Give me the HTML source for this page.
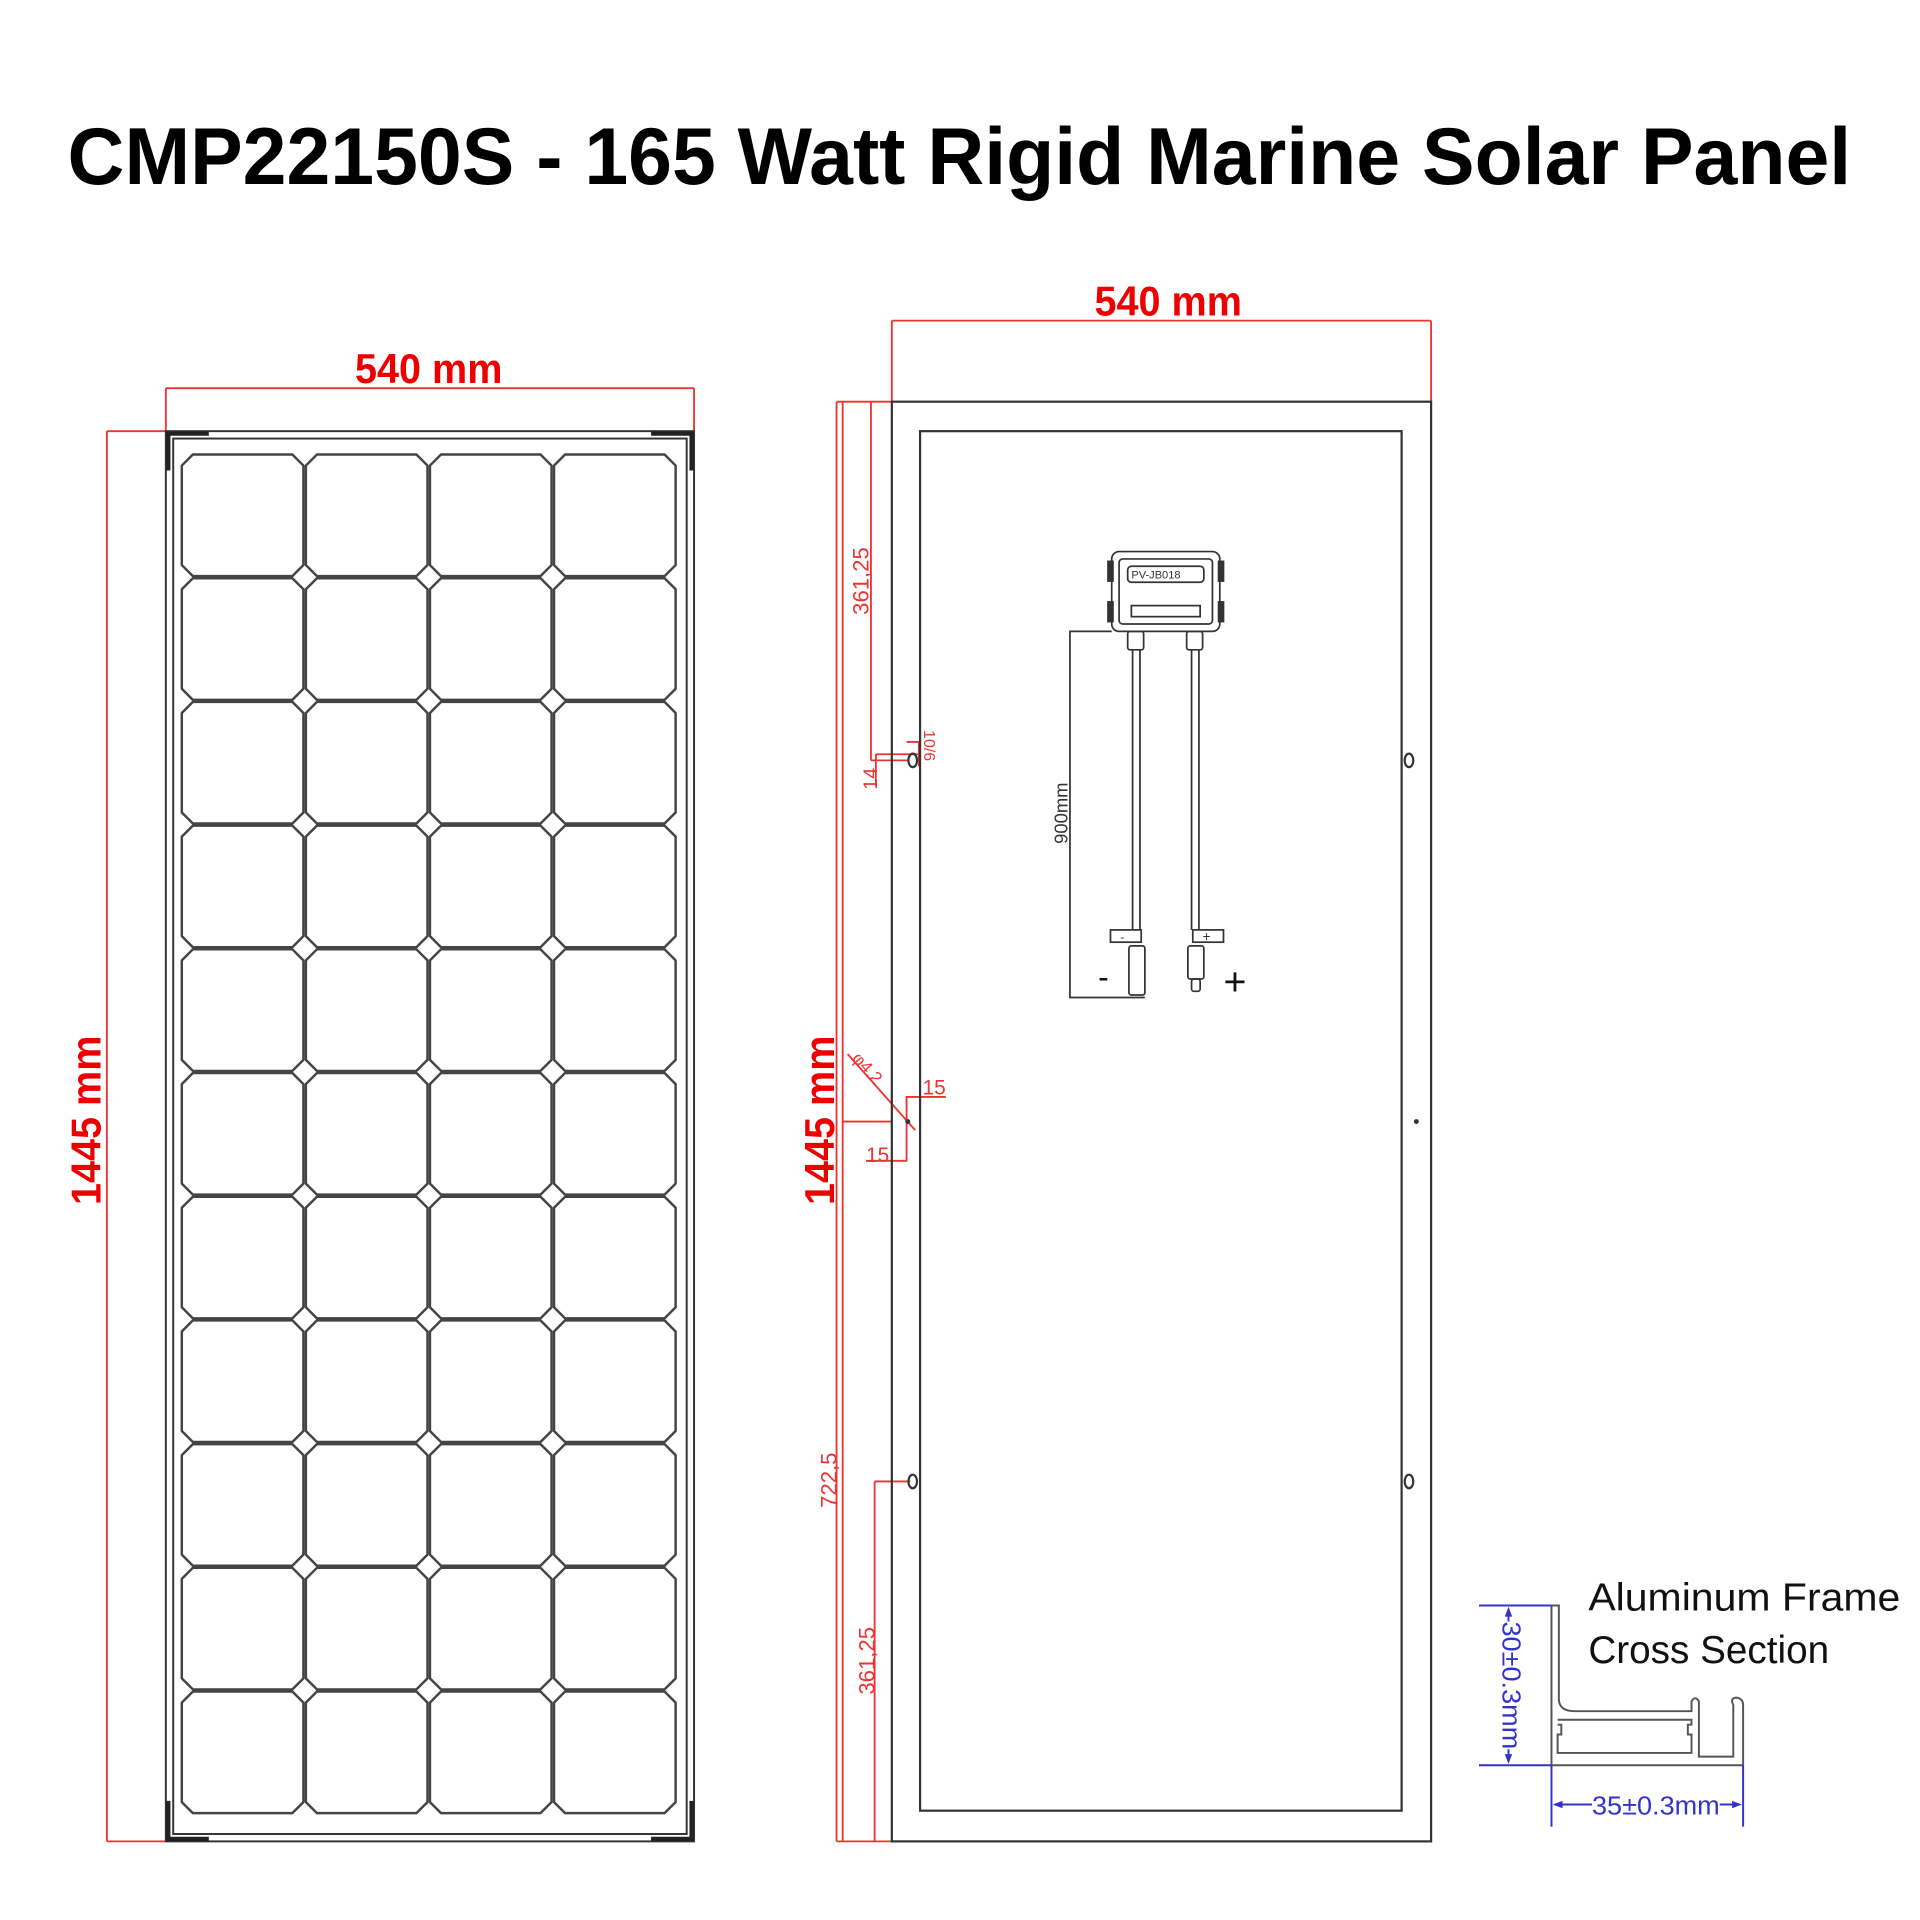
<!DOCTYPE html>
<html><head><meta charset="utf-8"><style>html,body{margin:0;padding:0;background:#fff}svg{display:block}</style></head>
<body>
<svg width="1920" height="1920" viewBox="0 0 1563 1563" xmlns="http://www.w3.org/2000/svg">
<defs>
<path id="c" d="M9,0 H90 L99,9 V90 L90,99 H9 L0,90 V9 Z" fill="none" stroke="#444" stroke-width="2" stroke-linejoin="round"/>
</defs>
<rect width="1563" height="1563" fill="#fff"/>
<text x="781" y="150" text-anchor="middle" font-family="Liberation Sans, sans-serif" font-weight="bold" font-size="66" textLength="1452" lengthAdjust="spacingAndGlyphs">CMP22150S - 165 Watt Rigid Marine Solar Panel</text>

<!-- LEFT PANEL -->
<g stroke="#e33" stroke-width="1.5" fill="none">
<line x1="135" y1="316" x2="565" y2="316"/><line x1="135" y1="316" x2="135" y2="351"/><line x1="565" y1="316" x2="565" y2="351"/>
<line x1="87" y1="351" x2="87" y2="1499"/><line x1="87" y1="351" x2="135" y2="351"/><line x1="87" y1="1499" x2="135" y2="1499"/>
</g>
<text x="349" y="312" text-anchor="middle" fill="#e00" font-family="Liberation Sans Narrow, Liberation Sans, sans-serif" font-weight="bold" font-size="34" textLength="120" lengthAdjust="spacingAndGlyphs">540 mm</text>
<text transform="translate(82,912) rotate(-90)" text-anchor="middle" fill="#e00" font-family="Liberation Sans Narrow, Liberation Sans, sans-serif" font-weight="bold" font-size="34" textLength="138" lengthAdjust="spacingAndGlyphs">1445 mm</text>
<g fill="none" stroke="#333" stroke-width="1.6">
<rect x="135" y="351" width="430" height="1148"/>
<rect x="141" y="357" width="418" height="1136"/>
</g>
<g stroke="#222" stroke-width="3.5" fill="none">
<path d="M137,383 V353 H170"/><path d="M530,353 H563 V383"/>
<path d="M137,1466 V1497 H170"/><path d="M530,1497 H563 V1466"/>
</g>
<g>
<g transform="translate(148,370)"><use href="#c"/><use href="#c" x="101"/><use href="#c" x="202"/><use href="#c" x="303"/></g>
<g transform="translate(148,470.7)"><use href="#c"/><use href="#c" x="101"/><use href="#c" x="202"/><use href="#c" x="303"/></g>
<g transform="translate(148,571.4)"><use href="#c"/><use href="#c" x="101"/><use href="#c" x="202"/><use href="#c" x="303"/></g>
<g transform="translate(148,672.1)"><use href="#c"/><use href="#c" x="101"/><use href="#c" x="202"/><use href="#c" x="303"/></g>
<g transform="translate(148,772.8)"><use href="#c"/><use href="#c" x="101"/><use href="#c" x="202"/><use href="#c" x="303"/></g>
<g transform="translate(148,873.5)"><use href="#c"/><use href="#c" x="101"/><use href="#c" x="202"/><use href="#c" x="303"/></g>
<g transform="translate(148,974.2)"><use href="#c"/><use href="#c" x="101"/><use href="#c" x="202"/><use href="#c" x="303"/></g>
<g transform="translate(148,1074.9)"><use href="#c"/><use href="#c" x="101"/><use href="#c" x="202"/><use href="#c" x="303"/></g>
<g transform="translate(148,1175.6)"><use href="#c"/><use href="#c" x="101"/><use href="#c" x="202"/><use href="#c" x="303"/></g>
<g transform="translate(148,1276.3)"><use href="#c"/><use href="#c" x="101"/><use href="#c" x="202"/><use href="#c" x="303"/></g>
<g transform="translate(148,1377)"><use href="#c"/><use href="#c" x="101"/><use href="#c" x="202"/><use href="#c" x="303"/></g>
</g>

<!-- RIGHT PANEL -->
<g stroke="#e33" stroke-width="1.5" fill="none">
<line x1="726" y1="261" x2="1165" y2="261"/><line x1="726" y1="261" x2="726" y2="327"/><line x1="1165" y1="261" x2="1165" y2="327"/>
<line x1="681" y1="327" x2="681" y2="1499"/><line x1="686" y1="327" x2="686" y2="1499"/>
<line x1="681" y1="327" x2="726" y2="327"/><line x1="681" y1="1499" x2="726" y2="1499"/>
<line x1="709" y1="327" x2="709" y2="619"/>
<path d="M709,619 H740 M713,614 H748 M713,614 V640 M738,604 H748 V624"/>
<line x1="712" y1="1206" x2="712" y2="1499"/><line x1="712" y1="1206" x2="741" y2="1206"/>
<line x1="690" y1="858" x2="745" y2="920"/>
<path d="M686,913 H726 M738,913 V945 H705 M738,913 V893 H770"/>
</g>
<g fill="#e33" font-family="Liberation Sans, sans-serif" font-size="18">
<text transform="translate(707,473) rotate(-90)" text-anchor="middle">361,25</text>
<text transform="translate(714,634) rotate(-90)" text-anchor="middle" font-size="16">14</text>
<text transform="translate(752,607) rotate(90)" text-anchor="middle" font-size="13">10/6</text>
<text transform="translate(693,862) rotate(48)" font-size="14">φ4.2</text>
<text x="751" y="891" font-size="17">15</text>
<text x="705" y="946" font-size="17">15</text>
<text transform="translate(681,1205) rotate(-90)" text-anchor="middle">722,5</text>
<text transform="translate(712,1352) rotate(-90)" text-anchor="middle">361,25</text>
</g>
<text x="951" y="257" text-anchor="middle" fill="#e00" font-family="Liberation Sans Narrow, Liberation Sans, sans-serif" font-weight="bold" font-size="34" textLength="120" lengthAdjust="spacingAndGlyphs">540 mm</text>
<text transform="translate(679,912) rotate(-90)" text-anchor="middle" fill="#e00" font-family="Liberation Sans Narrow, Liberation Sans, sans-serif" font-weight="bold" font-size="34" textLength="138" lengthAdjust="spacingAndGlyphs">1445 mm</text>
<g fill="none" stroke="#333" stroke-width="1.8">
<rect x="726" y="327" width="439" height="1172"/>
<rect x="749" y="351" width="392" height="1123"/>
<ellipse cx="743" cy="619" rx="3.5" ry="5.5"/><ellipse cx="743" cy="1206" rx="3.5" ry="5.5"/>
<ellipse cx="1147" cy="619" rx="3.5" ry="5.5"/><ellipse cx="1147" cy="1206" rx="3.5" ry="5.5"/>
</g>
<circle cx="1153" cy="913" r="2" fill="#333"/><circle cx="739" cy="913" r="2" fill="#333"/>

<!-- junction box -->
<g fill="none" stroke="#333" stroke-width="1.4">
<rect x="905" y="449" width="88" height="65" rx="6"/>
<rect x="911" y="455" width="76" height="53" rx="3"/>
<rect x="918" y="461" width="62" height="13" rx="3"/>
<rect x="921" y="493" width="56" height="9"/>
<rect x="902" y="457" width="4" height="16" fill="#333"/><rect x="902" y="490" width="4" height="16" fill="#333"/>
<rect x="992" y="457" width="4" height="16" fill="#333"/><rect x="992" y="490" width="4" height="16" fill="#333"/>
<rect x="918" y="514" width="13" height="15" rx="2"/><rect x="966" y="514" width="13" height="15" rx="2"/>
<path d="M922,529 V757 M928,529 V757 M970,529 V757 M976,529 V757"/>
<rect x="904" y="757" width="25" height="10"/><rect x="971" y="757" width="25" height="10"/>
<rect x="919" y="770" width="13" height="40" rx="2"/><rect x="967" y="770" width="13" height="27" rx="2"/>
<rect x="970" y="797" width="7" height="10" rx="2"/>
<path d="M905,514 H871 V812 H932"/>
</g>
<text x="921" y="471" font-family="Liberation Sans, sans-serif" font-size="9" fill="#333">PV-JB018</text>
<text x="912" y="766" font-family="Liberation Sans, sans-serif" font-size="10" fill="#333">-</text>
<text x="979" y="766" font-family="Liberation Sans, sans-serif" font-size="11" fill="#333">+</text>
<text x="894" y="804" font-family="Liberation Sans, sans-serif" font-size="26" fill="#111">-</text>
<text x="996" y="810" font-family="Liberation Sans, sans-serif" font-size="32" fill="#111">+</text>
<text transform="translate(869,662) rotate(-90)" text-anchor="middle" font-family="Liberation Sans, sans-serif" font-size="15" fill="#333">900mm</text>

<!-- cross section -->
<text x="1293" y="1311" font-family="Liberation Sans, sans-serif" font-size="32" fill="#111" textLength="254" lengthAdjust="spacingAndGlyphs">Aluminum Frame</text>
<text x="1293" y="1354" font-family="Liberation Sans, sans-serif" font-size="32" fill="#111" textLength="196" lengthAdjust="spacingAndGlyphs">Cross Section</text>
<g fill="none" stroke="#555" stroke-width="1.6">
<path d="M1263,1307 H1269 V1383 Q1269,1393 1282,1393 H1377 V1385 Q1380,1380 1383,1385 V1430 H1411 V1388 Q1408,1382 1414,1382 Q1419,1383 1419,1388 V1437 H1263 Z"/>
<path d="M1268,1400 H1377 V1404 H1374 V1412 H1377 V1427 H1268 V1412 H1271 V1404 H1268"/>
</g>
<g stroke="#33c" stroke-width="1.6" fill="none">
<line x1="1204" y1="1307" x2="1263" y2="1307"/><line x1="1204" y1="1437" x2="1263" y2="1437"/>
<line x1="1228" y1="1310" x2="1228" y2="1434"/>
<line x1="1263" y1="1437" x2="1263" y2="1487"/><line x1="1419" y1="1437" x2="1419" y2="1487"/>
<line x1="1266" y1="1469" x2="1416" y2="1469"/>
</g>
<g fill="#33c">
<path d="M1228,1308 l-3,8 h6 z"/><path d="M1228,1436 l-3,-8 h6 z"/>
<path d="M1264,1469 l8,-3 v6 z"/><path d="M1418,1469 l-8,-3 v6 z"/>
</g>
<rect x="1296" y="1458" width="104" height="22" fill="#fff"/>
<text x="1348" y="1477" text-anchor="middle" font-family="Liberation Sans, sans-serif" font-size="21" fill="#33c" textLength="104" lengthAdjust="spacingAndGlyphs">35±0.3mm</text>
<rect x="1219" y="1320" width="22" height="104" fill="#fff"/>
<text transform="translate(1223,1372) rotate(90)" text-anchor="middle" font-family="Liberation Sans, sans-serif" font-size="21" fill="#33c" textLength="104" lengthAdjust="spacingAndGlyphs">30±0.3mm</text>
</svg>
</body></html>
